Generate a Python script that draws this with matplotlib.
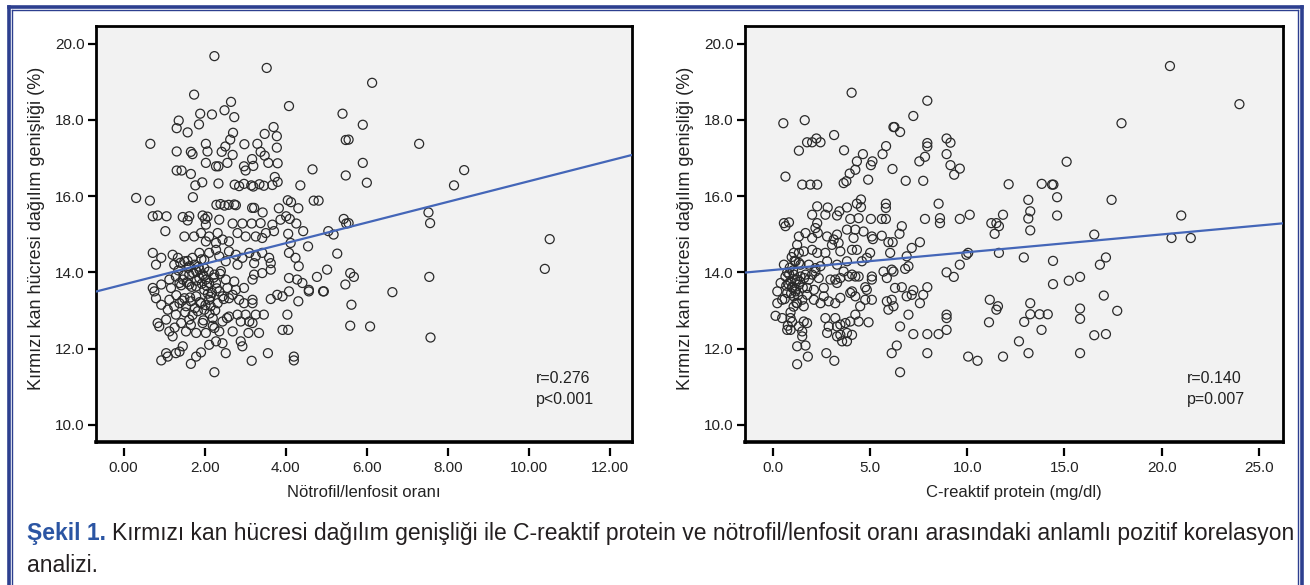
import numpy as np
import matplotlib
matplotlib.use("Agg")
import matplotlib.pyplot as plt
from matplotlib.lines import Line2D

plt.rcParams['font.family'] = ['Liberation Sans', 'DejaVu Sans']

# --- left panel: neutrophil/lymphocyte ratio vs RDW ---
nlr_x = [2.24, 3.53, 1.74, 2.65, 2.49, 1.89, 2.18, 2.73, 1.36, 1.31, 1.58, 1.86, 4.08, 5.40, 5.48, 5.48,
         0.66, 1.31, 2.70, 2.63, 2.51, 2.42, 2.69, 2.03, 2.07, 1.66, 1.70, 2.03, 2.28, 2.34, 2.56, 2.98,
         3.30, 3.38, 3.48, 3.17, 2.97, 3.01, 3.20, 3.70, 3.48, 3.78, 3.78, 3.57, 3.80, 3.73, 3.80, 1.31,
         1.43, 1.66, 1.94, 1.77, 2.34, 2.74, 2.85, 2.97, 3.15, 3.20, 3.35, 3.46, 3.67, 4.36, 4.66, 1.71,
         0.31, 0.65, 4.05, 4.13, 4.31, 4.69, 4.81, 2.29, 2.39, 2.49, 2.59, 2.73, 2.77, 3.17, 3.22, 3.43,
         3.83, 4.01, 4.10, 5.43, 0.72, 0.84, 1.06, 1.46, 1.62, 1.95, 2.07, 2.01,
         1.58, 2.03, 2.36, 2.69, 2.93, 3.16, 3.38, 3.67, 3.87, 4.26, 4.43, 5.05, 5.18, 5.49, 1.03,
         1.50, 1.74, 1.91, 2.11, 2.32, 2.44, 2.60, 2.81, 3.01, 3.26, 3.42, 3.51, 3.71, 4.06, 4.12, 4.55,
         5.27, 2.03, 2.28,
         0.72, 0.80, 0.93, 1.21, 1.34, 1.25, 1.50, 1.70, 1.62, 1.87, 1.99, 2.11, 2.28, 2.36, 2.52, 2.60,
         2.77, 2.93, 3.10, 3.22, 3.26, 3.42, 3.59, 3.63, 4.08, 4.24, 4.32, 5.02, 5.59, 5.68, 2.81,
         0.76, 0.72, 0.93, 1.13, 1.29, 1.38, 1.46, 1.62, 1.79, 1.87, 1.95, 2.03, 2.11, 2.24, 2.28, 2.40,
         2.52, 2.56, 2.73, 2.77, 2.97, 3.18, 3.22, 3.42, 3.63, 4.08, 4.28, 4.41, 4.57, 4.77, 4.94, 5.47,
         1.17, 1.62, 1.79, 1.99, 2.36, 1.99, 1.87,
         0.80, 0.93, 1.13, 1.25, 1.38, 1.50, 1.54, 1.66, 1.79, 1.91, 2.11, 2.15, 2.32, 2.44, 2.60, 2.69,
         2.85, 2.97, 3.18, 3.18, 3.63, 3.79, 3.92, 4.08, 4.31, 4.57, 4.92, 5.62, 1.09, 1.99,
         0.84, 0.88, 1.05, 1.13, 1.21, 1.29, 1.42, 1.54, 1.62, 1.79, 1.95, 2.03, 2.20, 2.24, 2.36, 2.44,
         2.60, 2.69, 2.81, 2.89, 3.01, 3.10, 3.18, 3.26, 3.46, 3.34, 3.08, 3.92, 4.06, 4.04, 5.59, 2.44,
         2.28, 2.11, 2.89, 2.93,
         0.93, 1.05, 1.09, 1.29, 1.38, 1.66, 1.79, 1.91, 2.24, 2.52, 3.16, 3.56, 4.20, 4.20, 1.46,
         6.13, 5.90, 5.55, 7.29, 5.90, 6.00, 8.40, 8.15, 7.52, 7.56, 5.55, 10.51, 10.39, 7.54, 6.63,
         6.08, 7.57,
         1.35, 1.48, 1.60, 1.72, 1.85, 1.98, 2.10, 2.22, 1.42, 1.56, 1.68, 1.80, 1.93, 2.05, 2.18, 2.30,
         1.30, 1.45, 1.64, 1.76, 1.88, 2.02, 2.14, 2.26, 1.52, 1.70, 1.83, 1.97, 2.12, 2.38, 2.47, 1.40,
         1.58, 1.75, 1.92, 2.08, 2.20, 2.55, 1.26, 1.66]
nlr_y = [19.67, 19.36, 18.66, 18.47, 18.25, 18.16, 18.14, 18.07, 17.98, 17.78, 17.67, 17.88, 18.36, 18.16, 17.47, 16.54,
         17.37, 17.17, 17.66, 17.48, 17.30, 17.16, 17.08, 17.37, 17.17, 17.16, 17.10, 16.87, 16.78, 16.78, 16.87, 17.36,
         17.37, 17.16, 17.06, 16.97, 16.78, 16.67, 16.79, 17.81, 17.63, 17.57, 17.27, 16.87, 16.86, 16.50, 16.37, 16.67,
         16.67, 16.58, 16.36, 16.28, 16.33, 16.30, 16.26, 16.32, 16.28, 16.25, 16.31, 16.27, 16.29, 16.28, 16.70, 15.97,
         15.95, 15.88, 15.89, 15.84, 15.68, 15.88, 15.88, 15.77, 15.79, 15.75, 15.77, 15.78, 15.76, 15.69, 15.69, 15.57,
         15.68, 15.47, 15.40, 15.40, 15.47, 15.49, 15.47, 15.45, 15.47, 15.49, 15.46, 15.40,
         15.36, 15.25, 15.38, 15.28, 15.28, 15.28, 15.29, 15.25, 15.38, 15.28, 15.08, 15.08, 14.99, 15.28, 15.08,
         14.94, 14.94, 15.03, 14.94, 15.03, 14.86, 14.81, 15.03, 14.94, 14.94, 14.90, 15.03, 15.08, 15.01, 14.77, 14.68,
         14.49, 14.81, 14.77,
         14.51, 14.20, 14.38, 14.46, 14.38, 14.20, 14.29, 14.38, 14.16, 14.51, 14.33, 14.51, 14.59, 14.42, 14.29, 14.55,
         14.46, 14.38, 14.51, 14.24, 14.42, 14.51, 14.38, 14.24, 14.51, 14.38, 14.16, 14.07, 13.98, 13.88, 14.20,
         13.50, 13.59, 13.68, 13.81, 13.89, 13.72, 13.81, 13.94, 14.03, 13.85, 13.94, 13.81, 13.72, 13.94, 13.72, 14.03,
         13.81, 13.59, 13.76, 13.54, 13.59, 13.81, 13.94, 13.98, 14.07, 13.85, 13.81, 13.72, 13.54, 13.88, 13.50, 13.68,
         13.59, 13.68, 13.63, 13.54, 13.50, 14.11, 14.07,
         13.32, 13.15, 13.28, 13.11, 13.19, 13.32, 13.11, 13.24, 13.37, 13.19, 13.28, 13.11, 13.19, 13.37, 13.32, 13.41,
         13.28, 13.19, 13.28, 13.19, 13.30, 13.41, 13.37, 13.50, 13.24, 13.50, 13.50, 13.15, 13.02, 13.02,
         12.67, 12.58, 12.76, 12.45, 12.32, 12.89, 12.67, 12.45, 12.76, 12.41, 12.67, 12.41, 12.80, 12.54, 12.45, 12.71,
         12.84, 12.45, 12.89, 12.71, 12.89, 12.71, 12.67, 12.89, 12.89, 12.41, 12.41, 12.49, 12.49, 12.89, 12.60, 12.14,
         12.19, 12.10, 12.19, 12.06,
         11.69, 11.88, 11.79, 11.88, 11.92, 11.60, 11.79, 11.90, 11.38, 11.88, 11.68, 11.88, 11.79, 11.69, 12.06,
         18.97, 17.87, 17.48, 17.37, 16.87, 16.35, 16.68, 16.28, 15.57, 15.29, 15.29, 14.87, 14.09, 13.88, 13.48,
         12.58, 12.29,
         14.05, 13.92, 14.12, 13.98, 14.15, 13.90, 14.02, 13.86, 13.66, 13.74, 13.62, 13.78, 13.70, 13.64, 13.46, 13.58,
         13.40, 13.26, 13.34, 13.06, 13.22, 13.14, 13.36, 13.00, 12.95, 12.88, 12.98, 12.74, 12.92, 13.96, 13.30, 14.25,
         14.30, 14.20, 14.34, 13.44, 12.60, 12.80, 12.55, 12.62]

# --- right panel: C-reactive protein vs RDW ---
crp_x = [4.06, 7.95, 0.55, 1.65, 7.23, 6.21, 6.26, 6.55, 3.16, 1.77, 2.03, 2.25, 2.46, 1.35, 3.67, 4.64,
         5.13, 5.05, 4.33, 4.25, 3.96, 3.79, 3.65, 5.65, 5.83, 6.16, 4.91, 6.84, 7.74, 7.54, 7.83, 7.95,
         7.95, 8.94, 9.14, 8.94, 9.14, 9.62, 9.33, 0.66, 1.52, 1.94, 2.29, 12.13, 8.53, 2.29, 2.83, 3.43,
         3.82, 4.33, 4.54, 4.54, 5.82, 5.82, 2.03, 10.13, 11.84, 2.71,
         3.31, 3.99, 4.42, 5.05, 5.61, 5.82, 7.83, 8.60, 8.60, 9.62, 11.24, 11.50, 11.63, 11.41, 11.63, 6.64,
         6.52, 0.58, 0.84, 0.66,
         2.29, 2.20, 2.32, 2.03, 1.35, 1.69, 1.26, 2.80, 3.14, 3.05, 3.31, 3.39, 3.82, 4.25, 4.16, 4.67,
         5.10, 5.15, 5.61, 5.95, 6.17, 7.57, 7.15, 6.04,
         1.09, 1.35, 1.60, 2.03, 2.29, 1.18, 1.43, 1.86, 2.71, 3.48, 4.08, 4.33, 5.01, 4.59, 4.84, 3.31,
         3.82, 0.58, 2.80, 6.89, 6.98, 6.81, 9.96, 10.05, 9.62, 2.20, 2.46,
         0.66, 0.92, 1.09, 1.26, 1.35, 1.43, 1.69, 1.86, 2.03, 2.20, 2.37, 2.63, 2.97, 3.22, 3.31, 3.48,
         3.65, 3.91, 4.08, 4.25, 4.42, 4.76, 5.10, 5.10, 5.70, 5.87, 6.12, 6.21, 6.29, 6.64, 7.23, 8.94,
         9.31, 1.77, 2.12, 1.01, 0.41, 0.24,
         0.24, 0.49, 0.75, 1.09, 1.26, 1.52, 1.60, 1.77, 2.12, 2.46, 2.63, 2.88, 3.22, 3.48, 3.99, 4.25,
         4.50, 4.76, 5.10, 5.87, 6.12, 6.21, 5.95, 6.89, 7.15, 7.74, 7.95, 7.57, 6.98, 8.94, 8.94, 11.16,
         11.50, 11.58, 4.08, 4.84,
         0.15, 0.49, 0.92, 0.75, 0.92, 1.35, 1.52, 1.60, 1.77, 2.71, 2.88, 2.80, 3.22, 3.31, 3.48, 3.74,
         3.99, 4.25, 4.42, 4.93, 3.48, 3.82, 4.08, 3.57, 3.82, 6.55, 7.23, 7.95, 8.53, 8.94, 11.12, 12.66,
         1.52, 3.31,
         1.26, 1.69, 1.81, 1.26, 2.76, 3.17, 6.12, 6.38, 7.95, 10.05, 10.53, 11.84, 6.55,
         20.42, 23.99, 17.93, 15.11, 13.83, 14.36, 14.43, 14.62, 14.62, 13.14, 13.24, 13.14, 13.24, 17.42,
         21.00, 16.53, 20.50, 21.49, 12.91, 14.41, 17.13, 16.82, 14.41, 15.22, 15.80, 17.02, 13.24, 13.24,
         13.72, 14.14, 12.93, 13.82, 15.80, 15.80, 17.71, 16.53, 17.13, 13.15, 15.80,
         0.80, 1.00, 1.15, 0.95, 1.20, 0.70, 1.05, 0.88, 1.30, 0.62, 1.12, 0.98, 1.40, 0.85, 1.22, 0.75,
         1.55, 1.08, 0.92, 1.35, 1.62, 1.00, 0.78, 1.18]
crp_y = [18.71, 18.50, 17.91, 17.99, 18.10, 17.81, 17.81, 17.68, 17.60, 17.41, 17.41, 17.51, 17.41, 17.19, 17.20, 17.10,
         16.91, 16.81, 16.91, 16.69, 16.59, 16.39, 16.34, 17.10, 17.31, 16.71, 16.43, 16.40, 16.40, 16.91, 17.03, 17.39,
         17.30, 17.51, 17.40, 17.10, 16.81, 16.72, 16.56, 16.51, 16.30, 16.30, 16.30, 16.31, 15.80, 15.73, 15.70, 15.60,
         15.70, 15.80, 15.91, 15.71, 15.80, 15.69, 15.51, 15.51, 15.51, 15.51,
         15.49, 15.40, 15.42, 15.40, 15.40, 15.40, 15.40, 15.42, 15.29, 15.40, 15.29, 15.29, 15.21, 15.01, 14.51, 15.21,
         15.01, 15.29, 15.31, 15.21,
         15.29, 15.16, 15.03, 14.90, 14.94, 15.03, 14.72, 14.94, 14.86, 14.72, 14.99, 14.77, 15.12, 15.12, 14.90, 15.07,
         14.94, 14.87, 14.96, 14.79, 14.79, 14.79, 14.64, 14.51,
         14.51, 14.51, 14.55, 14.59, 14.51, 14.29, 14.20, 14.20, 14.51, 14.55, 14.59, 14.59, 14.51, 14.29, 14.38, 14.20,
         14.29, 14.20, 14.29, 14.42, 14.16, 14.09, 14.46, 14.51, 14.20, 14.11, 14.16,
         13.89, 13.76, 13.94, 13.81, 13.68, 13.89, 13.94, 13.81, 13.94, 14.02, 13.85, 13.59, 13.81, 13.81, 13.72, 13.85,
         14.02, 13.89, 13.94, 13.89, 13.89, 13.61, 13.89, 13.81, 14.02, 13.85, 14.07, 14.02, 13.59, 13.61, 13.53, 14.00,
         13.88, 13.59, 13.54, 13.59, 13.72, 13.50,
         13.19, 13.28, 13.46, 13.37, 13.19, 13.28, 13.11, 13.41, 13.28, 13.19, 13.37, 13.24, 13.19, 13.33, 13.46, 13.37,
         13.11, 13.28, 13.28, 13.24, 13.28, 13.11, 13.02, 13.37, 13.41, 13.41, 13.61, 13.19, 12.89, 12.89, 12.80, 13.28,
         13.02, 13.11, 13.50, 13.54,
         12.86, 12.80, 12.80, 12.49, 12.49, 12.58, 12.45, 12.71, 12.67, 12.80, 12.58, 12.41, 12.80, 12.58, 12.63, 12.67,
         12.71, 12.89, 12.71, 12.69, 12.36, 12.41, 12.36, 12.19, 12.19, 12.58, 12.38, 12.38, 12.38, 12.49, 12.69, 12.19,
         12.32, 12.32,
         12.06, 12.08, 11.79, 11.59, 11.88, 11.68, 11.88, 12.08, 11.88, 11.79, 11.68, 11.79, 11.38,
         19.41, 18.41, 17.91, 16.90, 16.32, 16.30, 16.30, 15.97, 15.49, 15.90, 15.60, 15.41, 15.10, 15.90,
         15.49, 14.99, 14.90, 14.90, 14.39, 14.30, 14.39, 14.20, 13.69, 13.78, 13.88, 13.39, 13.19, 12.90,
         12.90, 12.90, 12.70, 12.49, 13.05, 12.78, 12.99, 12.35, 12.38, 11.88, 11.88,
         13.70, 13.62, 13.80, 13.45, 13.55, 13.65, 14.05, 14.12, 13.40, 13.30, 14.30, 14.40, 13.75, 13.95, 13.20, 14.00,
         13.60, 13.10, 12.95, 14.25, 13.85, 12.70, 12.60, 13.50]

# fitted lines (intercept, slope)
nlr_fit = (13.68, 0.271)
crp_fit = (14.06, 0.0467)

ylabel = 'Kırmızı kan hücresi dağılım genişliği (%)'
yticks = [10.0, 12.0, 14.0, 16.0, 18.0, 20.0]
nlr_ticks = [0, 2, 4, 6, 8, 10, 12]
crp_ticks = [0, 5, 10, 15, 20, 25]

fig = plt.figure(figsize=(13.1, 5.85), dpi=100)
W, H = 1310, 585


def panel(rect, xs, ys, fit, xlim, xticks, xfmt, xlab, stat):
    ax = fig.add_axes(rect)
    ax.set_facecolor('#f2f2f2')
    ax.scatter(xs, ys, s=42, facecolors='none', edgecolors='#2a2a2a', linewidths=0.9, zorder=3)
    xx = np.array(xlim)
    ax.plot(xx, fit[0] + fit[1] * xx, color='#4466b8', lw=1.6, zorder=4)
    ax.set_xlim(xlim)
    ax.set_ylim(9.55, 20.46)
    ax.set_xticks(xticks)
    ax.set_xticklabels([xfmt.format(v) for v in xticks])
    ax.set_yticks(yticks)
    ax.set_yticklabels(['{:.1f}'.format(v) for v in yticks])
    for s in ['top', 'right', 'left']:
        ax.spines[s].set_linewidth(2.0)
    ax.spines['bottom'].set_position(('outward', 4))
    ax.spines['bottom'].set_visible(False)
    ax.axhline(9.55, color='black', lw=2.6, zorder=5, clip_on=False)
    ax.tick_params(axis='both', length=6, width=1.6, labelsize=11, color='black', labelcolor='#222222')
    ax.tick_params(axis='x', pad=4)
    ax.tick_params(axis='y', pad=2)
    ax.set_ylabel(ylabel, fontsize=13, color='#222222')
    ax.yaxis.set_label_coords(-0.095, 0.513)
    ax.set_xlabel(xlab, fontsize=12, color='#222222')
    ax.xaxis.set_label_coords(0.5, -0.103)
    ax.text(0.822, 0.142, stat[0], transform=ax.transAxes, fontsize=11.5, color='#222222', va='baseline')
    ax.text(0.822, 0.091, stat[1], transform=ax.transAxes, fontsize=11.5, color='#222222', va='baseline')
    return ax


panel([96 / W, 143 / H, 535.6 / W, 416 / H], nlr_x, nlr_y, nlr_fit, (-0.68, 12.53), nlr_ticks,
      '{:.2f}', 'Nötrofil/lenfosit oranı', ('r=0.276', 'p<0.001'))
panel([745 / W, 143 / H, 538 / W, 416 / H], crp_x, crp_y, crp_fit, (-1.42, 26.23), crp_ticks,
      '{:.1f}', 'C-reaktif protein (mg/dl)', ('r=0.140', 'p=0.007'))

# double blue border
blue = '#2d3f8f'
for lw, off in [(2.6, 8.5), (1.0, 12.0)]:
    fig.add_artist(Line2D([off / W, off / W], [0, 1 - (off - 2) / H], color=blue, lw=lw))
    fig.add_artist(Line2D([1 - off / W, 1 - off / W], [0, 1 - (off - 2) / H], color=blue, lw=lw))
    fig.add_artist(Line2D([off / W, 1 - off / W], [1 - (off - 2) / H, 1 - (off - 2) / H], color=blue, lw=lw))

# caption
t1 = fig.text(27 / W, 1 - 540 / H, 'Şekil 1.', fontsize=16.5, fontweight='bold', color='#2b55a3', va='baseline')
fig.canvas.draw()
bb = t1.get_window_extent()
fig.text(bb.x1 / W + 6 / W, 1 - 540 / H,
         'Kırmızı kan hücresi dağılım genişliği ile C-reaktif protein ve nötrofil/lenfosit oranı arasındaki anlamlı pozitif korelasyon',
         fontsize=16.5, color='#231f20', va='baseline')
fig.text(27 / W, 1 - 572 / H, 'analizi.', fontsize=16.5, color='#231f20', va='baseline')

fig.savefig('out.png', dpi=100)
